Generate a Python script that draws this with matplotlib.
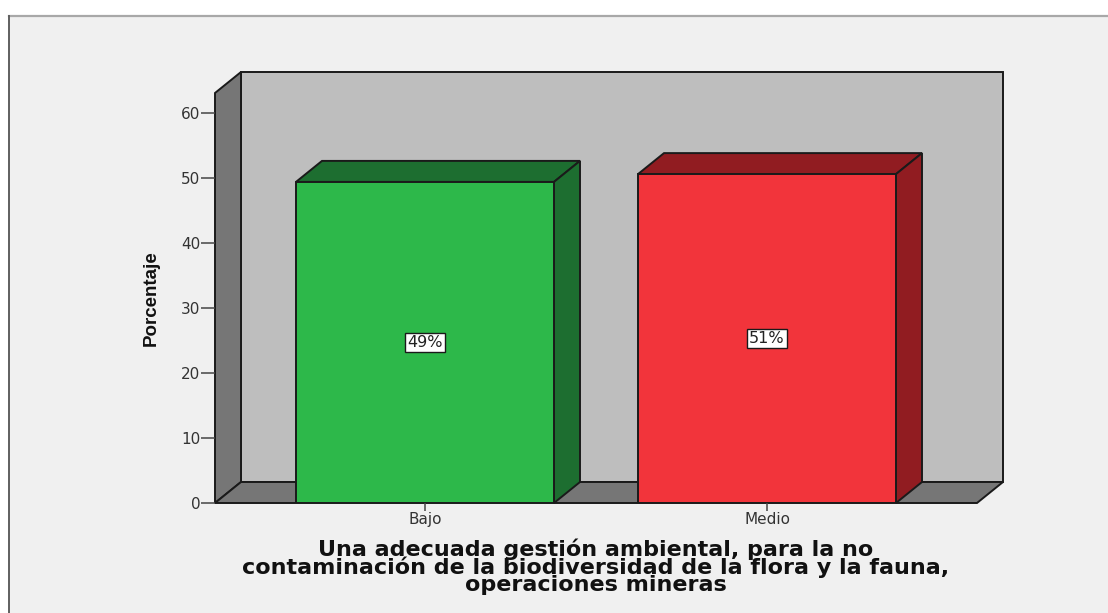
import matplotlib
matplotlib.use("Agg")
import matplotlib.pyplot as plt
from matplotlib.patches import Polygon, Rectangle

categories = ["Bajo", "Medio"]
values = [49.4, 50.6]
labels = ["49%", "51%"]
bar_colors = ["#2db84a", "#f2343b"]
dark_colors = ["#1d6e30", "#911c21"]
yticks = [0, 10, 20, 30, 40, 50, 60]
xlabel = ("Una adecuada gestión ambiental, para la no\n"
          "contaminación de la biodiversidad de la flora y la fauna,\n"
          "operaciones mineras")

W, H = 1108, 613
fig = plt.figure(figsize=(W / 100, H / 100), dpi=100, facecolor="white")

# background panel of the pasted screenshot
fig.add_artist(Rectangle((9 / W, -0.01), 1.1, (H - 16) / H + 0.01, transform=fig.transFigure,
                         facecolor="#f0f0f0", edgecolor="none", zorder=-3))
fig.add_artist(plt.Line2D([9 / W, 1], [1 - 16 / H] * 2, color="#a8a8a8", lw=1.6, zorder=-2))
fig.add_artist(plt.Line2D([9 / W, 9 / W], [0, 1 - 16 / H], color="#606060", lw=1.4, zorder=-2))

# axes = front plane of the 3d box
ax = fig.add_axes([215 / W, 1 - 503 / H, (977 - 215) / W, (503 - 93) / H])
ax.patch.set_visible(False)
per_cat = 342.0
per_unit = 6.5
xmin = -(425 - 215) / per_cat
xmax = xmin + (977 - 215) / per_cat
ymax = (503 - 93) / per_unit
ax.set_xlim(xmin, xmax)
ax.set_ylim(0, ymax)
dx = 26 / per_cat
dy = 21 / per_unit
edge = "#1a1a1a"
lw = 1.4

# back wall, side wall, floor
ax.add_patch(Polygon([(xmin + dx, dy), (xmax + dx, dy), (xmax + dx, ymax + dy), (xmin + dx, ymax + dy)],
                     facecolor="#bebebe", edgecolor=edge, lw=lw, clip_on=False, zorder=1))
ax.add_patch(Polygon([(xmin, 0), (xmin + dx, dy), (xmin + dx, ymax + dy), (xmin, ymax)],
                     facecolor="#767676", edgecolor=edge, lw=lw, clip_on=False, zorder=1.1))
ax.add_patch(Polygon([(xmin, 0), (xmax, 0), (xmax + dx, dy), (xmin + dx, dy)],
                     facecolor="#767676", edgecolor=edge, lw=lw, clip_on=False, zorder=1.1))

# bars
width = 258 / per_cat
x = range(len(categories))
ax.bar(x, values, width=width, color=bar_colors, edgecolor=edge, linewidth=lw, zorder=3)
for i, v in enumerate(values):
    l = i - width / 2
    r = i + width / 2
    ax.add_patch(Polygon([(l, v), (r, v), (r + dx, v + dy), (l + dx, v + dy)],
                         facecolor=dark_colors[i], edgecolor=edge, lw=lw, clip_on=False, zorder=2.5))
    ax.add_patch(Polygon([(r, 0), (r + dx, dy), (r + dx, v + dy), (r, v)],
                         facecolor=dark_colors[i], edgecolor=edge, lw=lw, clip_on=False, zorder=2.5))
    ax.text(i, v / 2, labels[i], ha="center", va="center", fontsize=11.5, color="#222222",
            zorder=4, family="DejaVu Sans",
            bbox=dict(facecolor="white", edgecolor=edge, lw=1, boxstyle="square,pad=0.15"))

for s in ax.spines.values():
    s.set_visible(False)
ax.set_xticks(list(x))
ax.set_xticklabels(categories, fontsize=11, color="#333333")
ax.set_yticks(yticks)
ax.set_yticklabels([str(t) for t in yticks], fontsize=11, color="#333333")
ax.tick_params(axis="x", length=5.5, width=1.1, color="#444444", pad=1)
ax.tick_params(axis="y", length=10, width=1.1, color="#444444", pad=0.5)

fig.text(151 / W, 1 - 298 / H, "Porcentaje", rotation=90, ha="center", va="center",
         fontsize=13.5, fontweight="bold", family="Liberation Sans", color="#111111")
fig.text(596 / W, 1 - 567 / H, xlabel, ha="center", va="center", fontsize=16,
         fontweight="bold", family="DejaVu Sans", color="#111111", linespacing=0.8)

fig.savefig("out.png", dpi=100, facecolor=fig.get_facecolor())
